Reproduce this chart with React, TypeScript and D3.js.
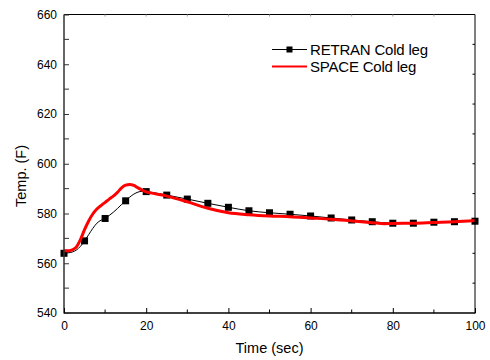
import React, { useRef, useEffect } from 'react';
import * as d3 from 'd3';

// ticks
const timeTicks = [0, 20, 40, 60, 80, 100];
const timeMinor = [10, 30, 50, 70, 90];
const tempTicks = [540, 560, 580, 600, 620, 640, 660];
const tempMinor = [550, 570, 590, 610, 630, 650];

// RETRAN cold leg (markers every 5 s)
const retranTime = [0, 1, 2, 3, 4, 5, 6, 7, 8, 9, 10, 11, 12, 13, 14, 15, 16, 17, 18, 19, 20,
    25, 30, 35, 40, 45, 50, 55, 60, 65, 70, 75, 80, 85, 90, 95, 100];
const retranTemp = [564, 564.2, 564.5, 565.3, 566.8, 569, 571.5, 574, 576.1, 577.3, 578, 579.2, 580.5, 582, 583.6, 585.1, 586.6, 587.8, 588.6, 588.9, 588.8,
    587.4, 585.8, 584.1, 582.5, 581.1, 580.3, 579.7, 579.0, 578.2, 577.4, 576.7, 576.1, 576.1, 576.5, 576.7, 576.9];

// SPACE cold leg
const spaceTime = [0, 1, 2, 3, 4, 5, 6, 7, 8, 9, 10, 11, 12, 13, 14, 15, 16, 17, 18, 19, 20,
    22, 25, 30, 35, 40, 45, 50, 55, 60, 65, 70, 75, 78, 80, 85, 90, 95, 100];
const spaceTemp = [565, 565, 565.4, 566.5, 569.5, 573.5, 577, 579.8, 581.8, 583.2, 584.5, 585.8, 587, 588.5, 590.3, 591.4, 591.7, 591.3, 590.3, 589.4, 588.7,
    588, 587, 584.7, 582.1, 580.3, 579.5, 579, 578.7, 578.2, 577.7, 577, 576.3, 575.9, 576, 576.1, 576.4, 576.7, 577.2];

const legendLabels = ['RETRAN Cold leg', 'SPACE Cold leg'];

const FONT = '"Liberation Sans", Arial, sans-serif';

function App() {
    const chartRef = useRef<SVGSVGElement | null>(null);

    useEffect(() => {
        const width = 490;
        const height = 360;
        const left = 64, right = 475, top = 14.5, bottom = 313;

        const svg = d3.select(chartRef.current);
        svg.selectAll('*').remove();
        svg.attr('width', width).attr('height', height);

        const x = d3.scaleLinear().domain([0, 100]).range([left, right]);
        const y = d3.scaleLinear().domain([540, 660]).range([bottom, top]);
        // right axis in the original has 10 equal divisions
        const yRight = d3.scaleLinear().domain([0, 10]).range([bottom, top]);

        const retran = retranTime.map((t, i) => ({ t, v: retranTemp[i] }));
        const space = spaceTime.map((t, i) => ({ t, v: spaceTemp[i] }));

        const line = d3.line<{ t: number; v: number }>()
            .x((d) => x(d.t))
            .y((d) => y(d.v))
            .curve(d3.curveMonotoneX);

        // black line + markers
        svg.append('path')
            .datum(retran)
            .attr('d', line)
            .attr('fill', 'none')
            .attr('stroke', '#000')
            .attr('stroke-width', 1);

        svg.selectAll('.marker')
            .data(retran.filter((d) => d.t % 5 === 0))
            .enter()
            .append('rect')
            .attr('class', 'marker')
            .attr('x', (d) => x(d.t) - 3.5)
            .attr('y', (d) => y(d.v) - 3.5)
            .attr('width', 7)
            .attr('height', 7)
            .attr('fill', '#000');

        // red line
        svg.append('path')
            .datum(space)
            .attr('d', line)
            .attr('fill', 'none')
            .attr('stroke', '#ff0000')
            .attr('stroke-width', 3);

        // frame
        svg.append('line')
            .attr('x1', left).attr('x2', right).attr('y1', top).attr('y2', top)
            .attr('stroke', '#000').attr('stroke-width', 1);
        svg.append('line')
            .attr('x1', right).attr('x2', right).attr('y1', top).attr('y2', bottom)
            .attr('stroke', '#000').attr('stroke-width', 1);
        svg.append('line')
            .attr('x1', left).attr('x2', left).attr('y1', top).attr('y2', bottom + 0.5)
            .attr('stroke', '#333').attr('stroke-width', 1.5);
        svg.append('line')
            .attr('x1', left).attr('x2', right + 0.5).attr('y1', bottom).attr('y2', bottom)
            .attr('stroke', '#000').attr('stroke-width', 1.5);

        // bottom axis
        const xAxis = svg.append('g')
            .attr('transform', `translate(0,${bottom})`)
            .call(d3.axisBottom(x).tickValues(timeTicks).tickSize(-5).tickPadding(8.5));
        xAxis.select('.domain').remove();
        xAxis.selectAll('text').attr('font-size', 12).attr('font-family', FONT).attr('fill', '#000');
        xAxis.selectAll('line').attr('stroke', '#000');

        svg.selectAll('.x-minor')
            .data(timeMinor)
            .enter()
            .append('line')
            .attr('x1', (d) => x(d)).attr('x2', (d) => x(d))
            .attr('y1', bottom).attr('y2', bottom - 3.5)
            .attr('stroke', '#000');

        // top ticks
        svg.selectAll('.x-top')
            .data(timeMinor.concat(timeTicks.slice(1, -1)))
            .enter()
            .append('line')
            .attr('x1', (d) => x(d)).attr('x2', (d) => x(d))
            .attr('y1', top).attr('y2', top + 2)
            .attr('stroke', '#999');

        // left axis
        const yAxis = svg.append('g')
            .attr('transform', `translate(${left},0)`)
            .call(d3.axisLeft(y).tickValues(tempTicks).tickSize(-5).tickPadding(7));
        yAxis.select('.domain').remove();
        yAxis.selectAll('text').attr('font-size', 12).attr('font-family', FONT).attr('fill', '#000');
        yAxis.selectAll('line').attr('stroke', '#333');

        svg.selectAll('.y-minor')
            .data(tempMinor)
            .enter()
            .append('line')
            .attr('x1', left).attr('x2', left + 5)
            .attr('y1', (d) => y(d)).attr('y2', (d) => y(d))
            .attr('stroke', '#333');

        // right ticks
        svg.selectAll('.y-right')
            .data(d3.range(1, 10))
            .enter()
            .append('line')
            .attr('x1', right).attr('x2', right - 2.5)
            .attr('y1', (d) => yRight(d)).attr('y2', (d) => yRight(d))
            .attr('stroke', '#000');

        // axis titles
        svg.append('text')
            .attr('x', (left + right) / 2)
            .attr('y', 353)
            .attr('text-anchor', 'middle')
            .attr('font-family', FONT)
            .attr('font-size', 14.5)
            .text('Time (sec)');

        svg.append('text')
            .attr('transform', 'translate(26,176) rotate(-90)')
            .attr('text-anchor', 'middle')
            .attr('font-family', FONT)
            .attr('font-size', 14.5)
            .text('Temp. (F)');

        // legend
        const legend = svg.append('g');
        legend.append('line')
            .attr('x1', 272).attr('x2', 307).attr('y1', 49.5).attr('y2', 49.5)
            .attr('stroke', '#000').attr('stroke-width', 1);
        legend.append('rect')
            .attr('x', 286.5).attr('y', 46.5).attr('width', 6).attr('height', 6)
            .attr('fill', '#000');
        legend.append('line')
            .attr('x1', 272).attr('x2', 307).attr('y1', 66.5).attr('y2', 66.5)
            .attr('stroke', '#ff0000').attr('stroke-width', 2);
        legend.selectAll('.legend-label')
            .data(legendLabels)
            .enter()
            .append('text')
            .attr('class', 'legend-label')
            .attr('x', 310)
            .attr('y', (d, i) => 54.5 + i * 17)
            .attr('font-family', FONT)
            .attr('font-size', 15)
            .attr('letter-spacing', -0.2)
            .text((d) => d);
    }, []);

    return (
        <svg ref={chartRef}
            style={{ position: 'absolute', left: 0, top: 0, display: 'block', background: '#fff' }}
        />
    );
}

export default App;
